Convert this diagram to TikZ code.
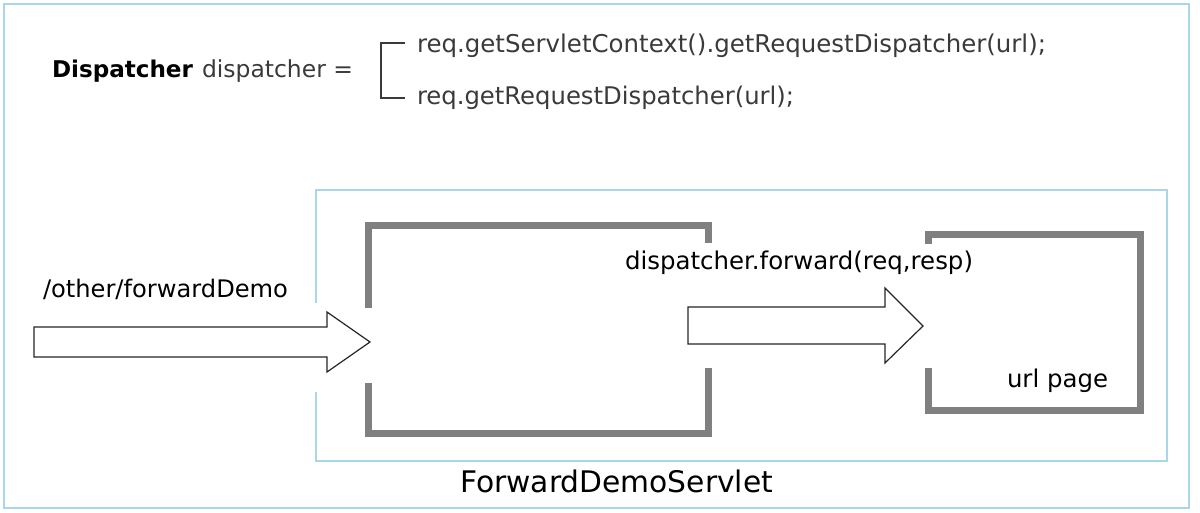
\documentclass[tikz,border=0pt]{standalone}
\usepackage{fontspec}
\setmainfont{DejaVu Sans}
\usepackage{graphicx}
\definecolor{framecol}{HTML}{A9D6E8}
\definecolor{boxgray}{HTML}{808080}
\definecolor{codegray}{HTML}{3A3A3A}
\newcommand{\fitw}[2]{\resizebox{#1pt}{!}{#2}}
\begin{document}
\begin{tikzpicture}[x=1pt,y=-1pt,
  frame/.style={draw=framecol,line width=1.5pt},
  gbox/.style={draw=boxgray,line width=7pt,line join=miter},
  blockarrow/.style={draw=black!85,line width=1.2pt,fill=white,line join=miter},
  lbl/.style={anchor=base west,inner sep=0pt,outer sep=0pt,font=\fontsize{20}{24}\selectfont},
  bracketline/.style={draw=codegray,line width=1.3pt}]
\useasboundingbox (0,0) rectangle (1200,513);
\fill[white] (0,0) rectangle (1200,513);
% outer frame
\draw[frame] (4,4) rectangle (1189,508);
% inner servlet box (left side interrupted where the arrow enters)
\draw[frame] (316,303) -- (316,190) -- (1167,190) -- (1167,461) -- (316,461) -- (316,392);
% servlet box (gray, open at arrow points)
\draw[gbox] (368,308) -- (368,226) -- (708,226) -- (708,243);
\draw[gbox] (368,383) -- (368,433) -- (708,433) -- (708,368);
% url page box
\draw[gbox] (928,244) -- (928,235) -- (1140,235) -- (1140,410) -- (928,410) -- (928,368);
% block arrows
\draw[blockarrow] (34,327) -- (327,327) -- (327,312) -- (370,342) -- (327,372) -- (327,357) -- (34,357) -- cycle;
\draw[blockarrow] (688,307) -- (885,307) -- (885,288) -- (923,326) -- (885,363) -- (885,344) -- (688,344) -- cycle;
% bracket
\draw[bracketline] (405,43) -- (381,43) -- (381,98) -- (405,98);
% texts
\node[lbl] (dtype) at (52,78) {\fitw{141}{\bfseries Dispatcher}};
\node[lbl,text=codegray] (dvar) at (202,78) {\fitw{151}{dispatcher =}};
\node[lbl,text=codegray] (l1) at (417,53) {\fitw{629}{req.getServletContext().getRequestDispatcher(url);}};
\node[lbl,text=codegray] (l2) at (417,105) {\fitw{377}{req.getRequestDispatcher(url);}};
\node[lbl] (fwd) at (625,270) {\fitw{348}{dispatcher.forward(req,resp)}};
\node[lbl] (path) at (43,298) {\fitw{245}{/other/forwardDemo}};
\node[lbl] (servlet) at (460,492) {\fitw{313}{ForwardDemoServlet}};
\node[lbl] (url) at (1007,387) {\fitw{101}{url page}};
\end{tikzpicture}
\end{document}
